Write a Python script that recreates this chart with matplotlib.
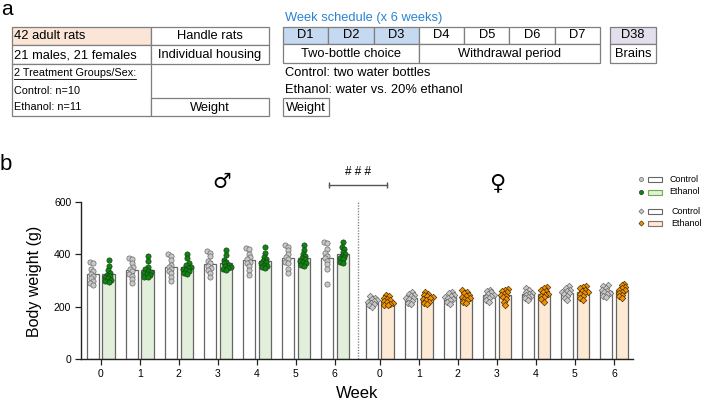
import numpy as np
import matplotlib.pyplot as plt
from matplotlib.patches import Rectangle

plt.rcParams['font.family'] = ['Liberation Sans', 'DejaVu Sans']

weeks = ['0', '1', '2', '3', '4', '5', '6']

# body weights (g), one row per week
male_ctrl = [
    [372, 365, 345, 335, 325, 318, 310, 300, 290, 282],
    [385, 383, 368, 352, 345, 335, 325, 318, 305, 290],
    [400, 393, 378, 360, 352, 345, 338, 330, 312, 298],
    [412, 405, 392, 375, 365, 355, 348, 340, 330, 315],
    [425, 420, 400, 388, 380, 372, 365, 355, 340, 322],
    [435, 428, 415, 400, 388, 380, 372, 365, 345, 328],
    [445, 442, 420, 405, 395, 385, 375, 362, 345, 288],
]
male_eth = [
    [378, 355, 340, 330, 322, 318, 312, 308, 302, 298, 295],
    [395, 375, 352, 345, 338, 332, 328, 325, 320, 315, 312],
    [400, 385, 365, 358, 352, 348, 345, 340, 335, 330, 326],
    [418, 398, 378, 370, 365, 360, 355, 350, 348, 345, 340],
    [428, 405, 390, 382, 375, 370, 365, 360, 355, 350, 346],
    [435, 415, 400, 392, 385, 380, 375, 370, 365, 360, 356],
    [445, 428, 420, 410, 402, 395, 390, 385, 380, 372, 366],
]
female_ctrl = [
    [240, 235, 230, 225, 222, 218, 215, 210, 205, 200],
    [255, 250, 245, 240, 235, 232, 228, 222, 216, 210],
    [258, 252, 246, 242, 238, 235, 230, 225, 218, 212],
    [265, 260, 255, 250, 246, 242, 238, 232, 225, 218],
    [270, 265, 258, 254, 250, 246, 242, 238, 232, 225],
    [278, 272, 265, 260, 256, 252, 248, 242, 235, 227],
    [282, 278, 272, 265, 260, 256, 252, 248, 242, 236],
]
female_eth = [
    [245, 240, 235, 230, 226, 222, 218, 215, 212, 208, 205],
    [255, 250, 245, 240, 236, 232, 228, 225, 220, 216, 212],
    [262, 258, 252, 246, 242, 238, 234, 230, 225, 220, 215],
    [268, 265, 260, 255, 250, 246, 242, 238, 230, 220, 208],
    [275, 270, 265, 260, 255, 250, 246, 242, 236, 228, 220],
    [280, 276, 270, 265, 260, 256, 252, 248, 242, 234, 226],
    [288, 282, 276, 270, 265, 262, 258, 252, 246, 240, 232],
]

W, H = 709, 408
fig = plt.figure(figsize=(W / 100, H / 100), dpi=100)

# ---- panel a: drawn in pixel coordinates ----
ov = fig.add_axes([0, 0, 1, 1])
ov.set_xlim(0, W)
ov.set_ylim(H, 0)
ov.axis('off')

EC = '#7f7f7f'
BIG = 9.3
SMALL = 7.8


def box(x0, y0, x1, y1, fc='white'):
    ov.add_patch(Rectangle((x0, y0), x1 - x0, y1 - y0, facecolor=fc,
                           edgecolor=EC, lw=0.9))


def txt(x, y, s, size=BIG, ha='center', **kw):
    return ov.text(x, y, s, fontsize=size, ha=ha, va='center', **kw)


ov.text(1, 0, 'a', fontsize=15, va='top')
ov.text(0, 170, 'b', fontsize=16, va='baseline')

# rat table
box(12, 27, 151, 45, fc='#fbe5d6')
box(12, 45, 151, 64)
box(12, 64, 151, 116)
box(151, 27, 269, 45)
box(151, 45, 269, 64)
box(151, 98, 269, 116)
txt(14, 36, '42 adult rats', ha='left')
txt(210, 36, 'Handle rats')
txt(14, 55, '21 males, 21 females', ha='left')
txt(210, 55, 'Individual housing')
t_grp = txt(14, 73, '2 Treatment Groups/Sex:', size=SMALL, ha='left')
txt(14, 91, 'Control: n=10', size=SMALL, ha='left')
txt(14, 107.5, 'Ethanol: n=11', size=SMALL, ha='left')
txt(210, 107.5, 'Weight')

# week schedule
txt(285, 18, 'Week schedule (x 6 weeks)', ha='left', color='#2a84d2')
cw = (600 - 283) / 7
for i in range(7):
    x0 = 283 + i * cw
    box(x0, 27, x0 + cw, 44, fc='#c5d9f1' if i < 3 else 'white')
    txt(x0 + cw / 2, 35.5, 'D%d' % (i + 1))
box(283, 44, 283 + 3 * cw, 63)
box(283 + 3 * cw, 44, 600, 63)
txt(283 + 1.5 * cw, 54, 'Two-bottle choice')
txt(283 + 5 * cw, 54, 'Withdrawal period')
box(610, 27, 656, 44, fc='#e4dfec')
box(610, 44, 656, 63)
txt(633, 35.5, 'D38')
txt(633, 54, 'Brains')
txt(285, 73, 'Control: two water bottles', ha='left')
txt(285, 90, 'Ethanol: water vs. 20% ethanol', ha='left')
box(283, 98, 329, 116)
txt(306, 107.5, 'Weight')

# ---- panel b ----
ax = fig.add_axes([81 / W, 1 - 359.3 / H, (633 - 81) / W, (359.3 - 201.7) / H])
ax.patch.set_visible(False)
ax.set_xlim(-0.505, 13.64)
ax.set_ylim(0, 600)

male_pos = np.arange(7)
female_pos = 7.15 + np.arange(7)
off, bw = 0.2, 0.31


def swarm(vals, pos, diam=3.2):
    pts = ax.transData.transform(np.column_stack([np.full(len(vals), pos), vals]))
    ys = pts[:, 1]
    xs0 = pts[0, 0]
    placed = []
    offs = np.zeros(len(vals))
    for i in np.argsort(ys):
        y = ys[i]
        cands = [0.0]
        for px, py in placed:
            dy = abs(y - py)
            if dy < diam:
                dx = np.sqrt(diam ** 2 - dy ** 2)
                cands += [px - dx, px + dx]
        cands.sort(key=lambda c: (abs(c), c))
        for c in cands:
            if all((c - px) ** 2 + (y - py) ** 2 >= diam ** 2 - 1e-6 for px, py in placed):
                offs[i] = c
                placed.append((c, y))
                break
    xd = ax.transData.inverted().transform(np.column_stack([xs0 + offs, ys]))[:, 0]
    return xd


groups = [
    (male_ctrl, male_pos - off, 'white', 'o', '#c8c8c8', '#6a6a6a'),
    (male_eth, male_pos + off, '#e2efda', 'o', '#0a8a0a', '#1f3a1f'),
    (female_ctrl, female_pos - off, 'white', 'D', '#c8c8c8', '#6a6a6a'),
    (female_eth, female_pos + off, '#fde9d4', 'D', '#f39200', '#4a3000'),
]

for data, pos, fc, mk, mfc, mec in groups:
    arr = [np.array(v, dtype=float) for v in data]
    means = [a.mean() for a in arr]
    sems = [a.std(ddof=1) / np.sqrt(len(a)) for a in arr]
    ax.bar(pos, means, width=bw, color=fc, edgecolor='#666666', lw=0.9, zorder=2)
    ax.errorbar(pos, means, yerr=sems, fmt='none', ecolor='#333333',
                elinewidth=0.7, capsize=1.5, capthick=0.7, zorder=2.5)
    for p, a in zip(pos, arr):
        xs = swarm(a, p)
        ax.scatter(xs, a, s=14 if mk == 'o' else 11, marker=mk, facecolor=mfc,
                   edgecolor=mec, linewidths=0.5, zorder=3)

ax.plot([6.585, 6.585], [0, 600], ls=(0, (1, 1)), color='#8a8a8a', lw=1, zorder=1)

# significance bracket and sex symbols
ax.plot([5.85, 7.33], [664, 664], color='#555555', lw=1, marker='|', ms=4,
        mew=1, clip_on=False)
ax.text(6.59, 713, '# # #', ha='center', va='center', fontsize=8.5, clip_on=False)
ax.text(3.1, 676, '\u2642', ha='center', va='center', fontsize=15,
        family=['DejaVu Sans'])
ax.text(10.15, 672, '\u2640', ha='center', va='center', fontsize=16,
        family=['DejaVu Sans'])

ax.set_xticks(np.concatenate([male_pos, female_pos]))
ax.set_xticklabels(weeks + weeks)
ax.set_yticks([0, 200, 400, 600])
for s in ['top', 'right']:
    ax.spines[s].set_visible(False)
for s in ['left', 'bottom']:
    ax.spines[s].set_color('#222222')
    ax.spines[s].set_linewidth(1)
ax.tick_params(length=4, width=0.9, labelsize=7.5, color='#222222', pad=3)

fig.text(35 / W, 1 - 281 / H, 'Body weight (g)', rotation=90, ha='center',
         va='center', fontsize=11.5)
fig.text(357 / W, 1 - 393 / H, 'Week', ha='center', va='center', fontsize=12)

# legend
leg = [
    (179, 'o', '#c8c8c8', '#6a6a6a', 'white', '#666666', 'Control', 669),
    (192, 'o', '#0a8a0a', '#1f3a1f', '#e2efda', '#70ad47', 'Ethanol', 669),
    (211, 'D', '#c8c8c8', '#6a6a6a', 'white', '#666666', 'Control', 671),
    (223, 'D', '#f39200', '#4a3000', '#fde9d4', '#8a7060', 'Ethanol', 671),
]
for y, mk, mfc, mec, rfc, rec, lab, tx in leg:
    ov.plot([641], [y], marker=mk, ms=3 if mk == 'o' else 2.6, mfc=mfc,
            mec=mec, mew=0.5)
    ov.add_patch(Rectangle((648, y - 2.5), 14, 5, facecolor=rfc, edgecolor=rec,
                           lw=0.8))
    ov.text(tx, y, lab, fontsize=6.5, va='center')

# underline for the treatment-groups heading
r = fig.canvas.get_renderer()
bb = t_grp.get_window_extent(r)
inv = ov.transData.inverted()
(ux0, _), (ux1, _) = inv.transform([(bb.x0, bb.y0), (bb.x1, bb.y0)])
ov.plot([ux0, ux1], [79.3, 79.3], color='black', lw=0.6)

fig.savefig('out.png', dpi=100)
